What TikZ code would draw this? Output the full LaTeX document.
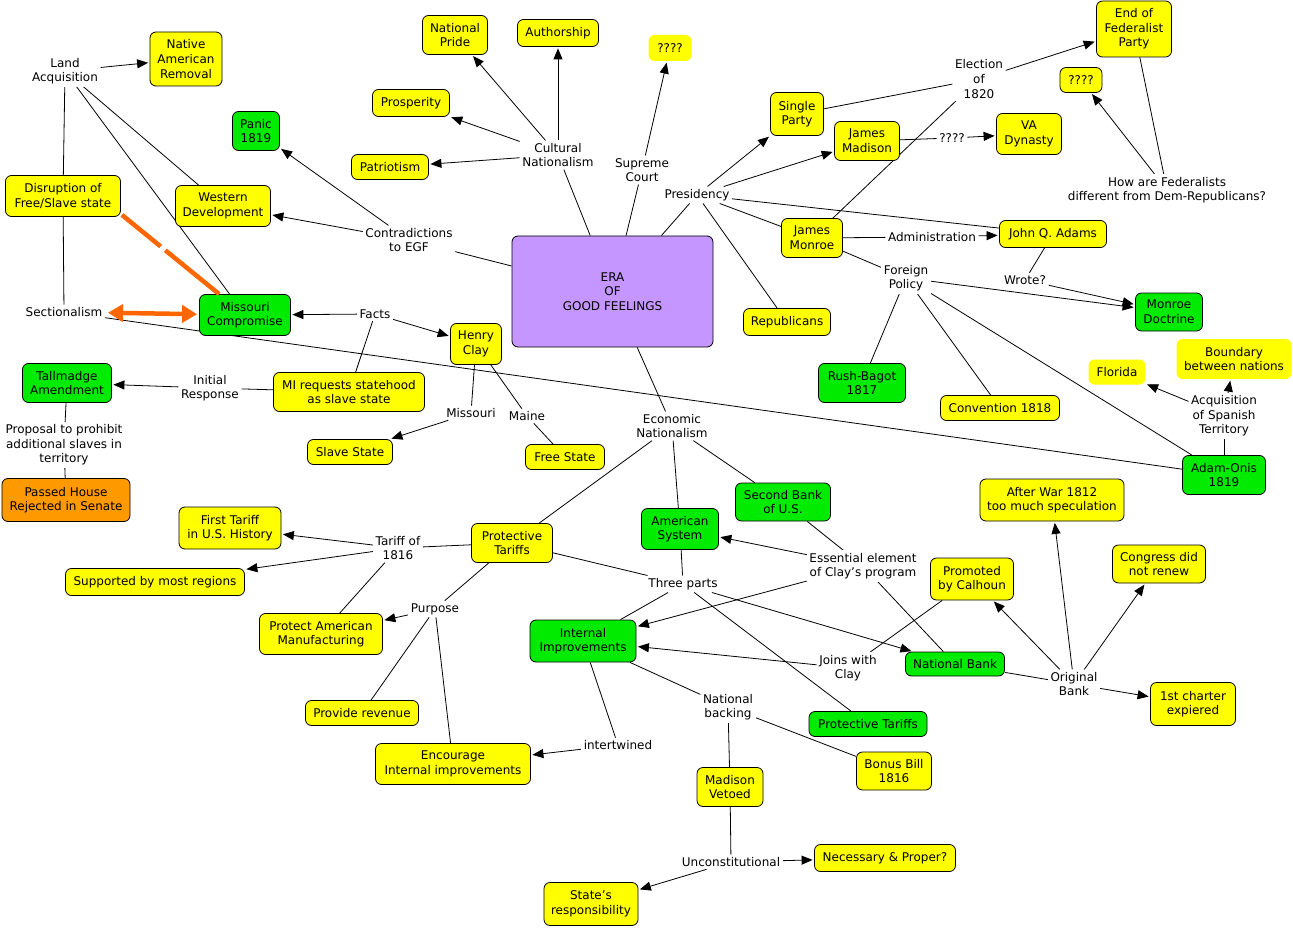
\documentclass[tikz,border=0pt]{standalone}
\usepackage{fontspec}
\setmainfont{DejaVu Sans}
\usetikzlibrary{arrows.meta,backgrounds}
\definecolor{ygl}{RGB}{255,255,0}
\definecolor{ggl}{RGB}{0,235,0}
\definecolor{ogl}{RGB}{255,153,0}
\definecolor{pgl}{RGB}{197,150,255}
\definecolor{oline}{RGB}{255,102,0}
\begin{document}
\begin{tikzpicture}[x=1pt,y=-1pt,
  every node/.style={font=\fontsize{12}{14.6}\selectfont, align=center},
  ybox/.style={draw, fill=ygl, rounded corners=6pt, line width=0.8pt, inner sep=2pt},
  gbox/.style={ybox, fill=ggl},
  nbox/.style={fill=ygl, rounded corners=6pt, inner sep=2pt},
  lab/.style={fill=white, inner sep=2.5pt},
  conn/.style={line width=0.8pt},
  arr/.style={conn, -{Triangle[length=11pt,width=9pt]}, shorten >=1.5pt},
  obig/.style={line width=4.5pt, draw=oline},
]
\useasboundingbox (0,0) rectangle (1293,928);
% boxes
\node[ybox,minimum width=72,minimum height=54] (nar) at (186,59) {Native\\American\\Removal};
\node[ybox,minimum width=65,minimum height=39] (np) at (455,35) {National\\Pride};
\node[ybox,minimum width=81,minimum height=27] (auth) at (558,33) {Authorship};
\node[nbox,minimum width=43,minimum height=26] (q1) at (670,48) {????};
\node[ybox,minimum width=77,minimum height=27] (pros) at (411,103) {Prosperity};
\node[gbox,minimum width=47,minimum height=39] (panic) at (256,131) {Panic\\1819};
\node[ybox,minimum width=77,minimum height=25] (pat) at (390,167) {Patriotism};
\node[ybox,minimum width=115,minimum height=41] (disr) at (63,196) {Disruption of\\Free/Slave state};
\node[ybox,minimum width=95,minimum height=41] (wd) at (223,206) {Western\\Development};
\node[draw,fill=pgl,rounded corners=6pt,line width=0.8pt,minimum width=201,minimum height=111] (era) at (612.5,291.5) {ERA\\OF\\GOOD FEELINGS};
\node[gbox,minimum width=91,minimum height=41] (mc) at (245,315) {Missouri\\Compromise};
\node[ybox,minimum width=51,minimum height=41] (hc) at (476,344) {Henry\\Clay};
\node[gbox,minimum width=89,minimum height=39] (tall) at (67,383) {Tallmadge\\Amendment};
\node[ybox,minimum width=151,minimum height=39] (mir) at (349,392) {MI requests statehood\\as slave state};
\node[draw,fill=ogl,rounded corners=6pt,line width=0.8pt,inner sep=2pt,minimum width=128,minimum height=43] (pass) at (66,500) {Passed House\\Rejected in Senate};
\node[ybox,minimum width=85,minimum height=25] (ss) at (350,452) {Slave State};
\node[ybox,minimum width=79,minimum height=25] (fs) at (565,457) {Free State};
\node[ybox,minimum width=53,minimum height=43] (sp) at (797,114) {Single\\Party};
\node[ybox,minimum width=65,minimum height=39] (jm) at (867,141) {James\\Madison};
\node[ybox,minimum width=65,minimum height=41] (va) at (1029,134) {VA\\Dynasty};
\node[ybox,minimum width=75,minimum height=56] (efp) at (1134,29) {End of\\Federalist\\Party};
\node[ybox,minimum width=42,minimum height=25] (q2) at (1081,80) {????};
\node[ybox,minimum width=61,minimum height=39] (jmon) at (812,238) {James\\Monroe};
\node[ybox,minimum width=107,minimum height=27] (jqa) at (1053,234) {John Q. Adams};
\node[ybox,minimum width=87,minimum height=27] (rep) at (787,322) {Republicans};
\node[gbox,minimum width=67,minimum height=38] (md) at (1169,312) {Monroe\\Doctrine};
\node[gbox,minimum width=87,minimum height=39] (rb) at (862,383) {Rush-Bagot\\1817};
\node[ybox,minimum width=119,minimum height=25] (c18) at (1000,408) {Convention 1818};
\node[nbox,minimum width=57,minimum height=25] (flo) at (1117,372) {Florida};
\node[nbox,minimum width=115,minimum height=40] (bnd) at (1234,359) {Boundary\\between nations};
\node[gbox,minimum width=83,minimum height=39] (ao) at (1224,475) {Adam-Onis\\1819};
\node[ybox,minimum width=144,minimum height=42] (aw) at (1052,500) {After War 1812\\too much speculation};
\node[gbox,minimum width=95,minimum height=38] (sb) at (783,502) {Second Bank\\of U.S.};
\node[gbox,minimum width=77,minimum height=41] (as) at (680,529) {American\\System};
\node[ybox,minimum width=81,minimum height=39] (pt) at (512,543) {Protective\\Tariffs};
\node[ybox,minimum width=102,minimum height=42] (ft) at (230,528) {First Tariff\\in U.S. History};
\node[ybox,minimum width=179,minimum height=27] (smr) at (155,582) {Supported by most regions};
\node[ybox,minimum width=83,minimum height=42] (pbc) at (972,579) {Promoted\\by Calhoun};
\node[ybox,minimum width=93,minimum height=38] (cdnr) at (1159,564) {Congress did\\not renew};
\node[ybox,minimum width=123,minimum height=41] (pam) at (321,634) {Protect American\\Manufacturing};
\node[gbox,minimum width=106,minimum height=42] (ii) at (583,641) {Internal\\Improvements};
\node[gbox,minimum width=99,minimum height=24] (nb) at (955,664) {National Bank};
\node[ybox,minimum width=85,minimum height=43] (fce) at (1193,704) {1st charter\\expiered};
\node[ybox,minimum width=113,minimum height=25] (pr) at (362,713) {Provide revenue};
\node[gbox,minimum width=118,minimum height=25] (ptg) at (868,724) {Protective Tariffs};
\node[ybox,minimum width=155,minimum height=41] (eii) at (453,764) {Encourage\\Internal improvements};
\node[ybox,minimum width=75,minimum height=38] (bb) at (894,771) {Bonus Bill\\1816};
\node[ybox,minimum width=66,minimum height=39] (mv) at (730,787) {Madison\\Vetoed};
\node[ybox,minimum width=141,minimum height=27] (npq) at (885,858) {Necessary \& Proper?};
\node[ybox,minimum width=94,minimum height=43] (sr) at (591,904) {State's\\responsibility};
% labels
\node[lab] (la) at (65,71) {Land\\Acquisition};
\node[lab] (cn) at (558,155) {Cultural\\Nationalism};
\node[lab] (sc) at (642,170) {Supreme\\Court};
\node[lab] (cegf) at (409,240) {Contradictions\\to EGF};
\node[lab] (sect) at (64,312) {Sectionalism};
\node[lab] (facts) at (375,314) {Facts};
\node[lab] (ir) at (210,388) {Initial\\Response};
\node[lab] (prop) at (64,445) {Proposal to prohibit\\additional slaves in\\territory};
\node[lab] (mo) at (471,413) {Missouri};
\node[lab] (me) at (527,416) {Maine};
\node[lab] (en) at (672,426) {Economic\\Nationalism};
\node[lab] (pres) at (697,195) {Presidency};
\node[lab] (e20) at (979,79) {Election\\of\\1820};
\node[lab] (q3) at (952,138) {????};
\node[lab] (haf) at (1167,190) {How are Federalists\\different from Dem-Republicans?};
\node[lab] (adm) at (932,237) {Administration};
\node[lab] (fp) at (906,278) {Foreign\\Policy};
\node[lab] (wr) at (1025,280) {Wrote?};
\node[lab] (aqs) at (1224,416) {Acquisition\\of Spanish\\Territory};
\node[lab] (t16) at (398,548) {Tariff of\\1816};
\node[lab] (ee) at (863,566) {Essential element\\of Clay's program};
\node[lab] (tp) at (683,584) {Three parts};
\node[lab] (pur) at (435,609) {Purpose};
\node[lab] (jwc) at (848,668) {Joins with\\Clay};
\node[lab] (ob) at (1074,684) {Original\\Bank};
\node[lab] (nbk) at (728,707) {National\\backing};
\node[lab] (itw) at (618,745) {intertwined};
\node[lab] (unc) at (731,862) {Unconstitutional};
% connectors
\begin{pgfonlayer}{background}
\draw[arr] (la) -- (nar);
\draw[conn] (la) -- (disr);
\draw[conn] (la) -- (wd);
\draw[conn] (la) -- (mc);
\draw[conn] (disr) -- (sect);
\draw[conn] (sect) -- (ao);
\draw[arr] (cegf) -- (panic);
\draw[arr] (cegf) -- (wd);
\draw[conn] (era) -- (cegf);
\draw[arr] (cn) -- (np);
\draw[arr] (cn) -- (auth);
\draw[arr] (cn) -- (pros);
\draw[arr] (cn) -- (pat);
\draw[conn] (era) -- (cn);
\draw[conn] (era) -- (sc);
\draw[arr] (sc) -- (q1);
\draw[conn] (era) -- (pres);
\draw[arr] (pres) -- (sp);
\draw[arr] (pres) -- (jm);
\draw[conn] (pres) -- (jqa);
\draw[conn] (pres) -- (jmon);
\draw[conn] (pres) -- (rep);
\draw[conn] (sp) -- (e20);
\draw[arr] (e20) -- (efp);
\draw[conn] (jmon) -- (e20);
\draw[conn] (jm) -- (q3);
\draw[arr] (q3) -- (va);
\draw[arr] (haf) -- (q2);
\draw[conn] (haf) -- (efp);
\draw[conn] (jmon) -- (adm);
\draw[arr] (adm) -- (jqa);
\draw[conn] (jmon) -- (fp);
\draw[arr] (fp) -- (md);
\draw[conn] (jqa) -- (wr);
\draw[arr] (wr) -- (md);
\draw[conn] (fp) -- (rb);
\draw[conn] (fp) -- (c18);
\draw[conn] (fp) -- (ao);
\draw[conn] (ao) -- (aqs);
\draw[arr] (aqs) -- (flo);
\draw[arr] (aqs) -- (bnd);
\draw[arr] (facts) -- (mc);
\draw[arr] (facts) -- (hc);
\draw[conn] (facts) -- (mir);
\draw[conn] (mir) -- (ir);
\draw[arr] (ir) -- (tall);
\draw[conn] (tall) -- (prop);
\draw[conn] (prop) -- (pass);
\draw[conn] (hc) -- (mo);
\draw[conn] (hc) -- (me);
\draw[arr] (mo) -- (ss);
\draw[conn] (me) -- (fs);
\draw[conn] (era) -- (en);
\draw[conn] (en) -- (pt);
\draw[conn] (en) -- (as);
\draw[conn] (en) -- (sb);
\draw[conn] (pt) -- (t16);
\draw[arr] (t16) -- (ft);
\draw[arr] (t16) -- (smr);
\draw[conn] (t16) -- (pam);
\draw[conn] (pt) -- (pur);
\draw[arr] (pur) -- (pam);
\draw[conn] (pur) -- (pr);
\draw[conn] (pur) -- (eii);
\draw[conn] (pt) -- (tp);
\draw[conn] (as) -- (tp);
\draw[conn] (tp) -- (ii);
\draw[arr] (tp) -- (nb);
\draw[conn] (tp) -- (ptg);
\draw[arr] (ee) -- (as);
\draw[conn] (sb) -- (ee);
\draw[arr] (ee) -- (ii);
\draw[conn] (ee) -- (nb);
\draw[conn] (pbc) -- (jwc);
\draw[arr] (jwc) -- (ii);
\draw[conn] (nb) -- (ob);
\draw[arr] (ob) -- (pbc);
\draw[arr] (ob) -- (aw);
\draw[arr] (ob) -- (cdnr);
\draw[arr] (ob) -- (fce);
\draw[conn] (ii) -- (itw);
\draw[arr] (itw) -- (eii);
\draw[conn] (ii) -- (nbk);
\draw[conn] (nbk) -- (bb);
\draw[conn] (nbk) -- (mv);
\draw[conn] (mv) -- (unc);
\draw[arr] (unc) -- (npq);
\draw[arr] (unc) -- (sr);
\end{pgfonlayer}
% orange connectors
\draw[obig, dash pattern=on 50pt off 6pt on 300pt] ([xshift=1pt,yshift=2pt]disr.south east) -- ([xshift=20pt]mc.north west);
\draw[obig, {Triangle[length=15pt,width=17pt]}-{Triangle[length=15pt,width=17pt]}, shorten <=3pt, shorten >=2pt] (sect) -- (mc);
\end{tikzpicture}
\end{document}
